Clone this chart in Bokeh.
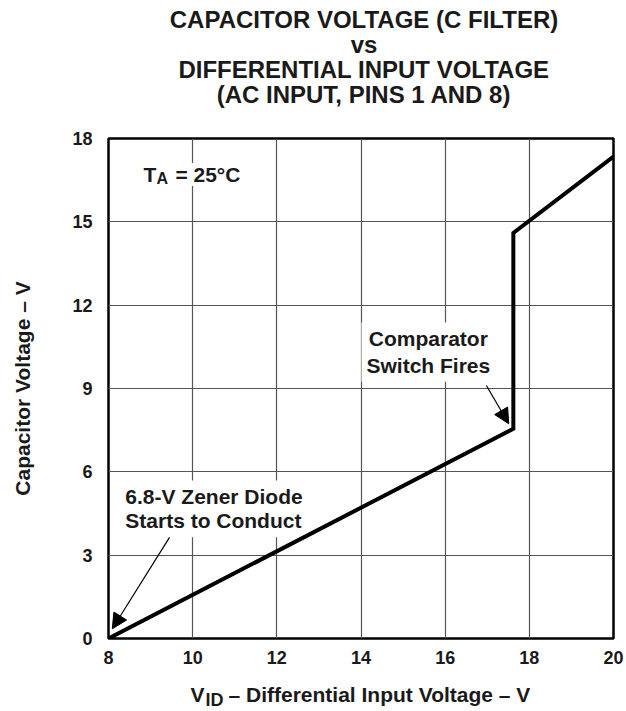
from bokeh.plotting import figure
from bokeh.layouts import column
from bokeh.models import Label, Arrow, NormalHead, FixedTicker, Range1d
from bokeh.embed import file_html
from bokeh.resources import INLINE

# ---- data ----
vid = [8.0, 17.62, 17.62, 20.0]          # differential input voltage (V)
vcap = [0.0, 7.55, 14.6, 17.35]          # capacitor voltage (V)
x_ticks = [8, 10, 12, 14, 16, 18, 20]
y_ticks = [0, 3, 6, 9, 12, 15, 18]
title_lines = ["CAPACITOR VOLTAGE (C FILTER)", "vs",
               "DIFFERENTIAL INPUT VOLTAGE", "(AC INPUT, PINS 1 AND 8)"]

FONT = "Liberation Sans"
INK = "#1a1a1a"
W = 626
LEFT, RIGHT = 108, 13      # frame borders shared by the stacked figures


def blank_fig(h):
    # frames are aligned with the main chart in the column, so map page pixels
    f = figure(width=W, height=h, x_range=Range1d(LEFT, W - RIGHT), y_range=Range1d(0, h),
               output_backend="svg", toolbar_location=None, title=None,
               min_border_left=LEFT, min_border_right=RIGHT,
               min_border_top=0, min_border_bottom=0,
               x_axis_location=None, y_axis_location=None)
    f.grid.visible = False
    f.outline_line_color = None
    f.background_fill_color = "white"
    f.border_fill_color = "white"
    return f


def lab(fig, text, x, y, size, align="left", baseline="alphabetic", bg=None, pad=0,
        lh=1.2, level="annotation"):
    l = Label(x=x, y=y, text=text, text_font=FONT, text_font_style="bold",
              text_font_size=size, text_color=INK, text_align=align,
              text_baseline=baseline, text_line_height=lh, level=level)
    if bg:
        l.background_fill_color = bg
        l.padding = pad
    fig.add_layout(l)
    return l


# ---- header with the title ----
HDR_H = 120
hdr = blank_fig(HDR_H)
for t, base in zip(title_lines, [19, 44, 69, 94]):
    lab(hdr, t, 363.5, HDR_H - base, "24px", align="center")

# ---- main chart ----
p = figure(width=W, height=560, x_range=Range1d(8, 20), y_range=Range1d(0, 18),
           output_backend="svg", toolbar_location=None, title=None,
           min_border_left=LEFT, min_border_right=RIGHT,
           min_border_top=18, min_border_bottom=42)
p.background_fill_color = "white"
p.border_fill_color = "white"
p.outline_line_color = "black"
p.outline_line_width = 2.5

p.xaxis.ticker = FixedTicker(ticks=x_ticks)
p.yaxis.ticker = FixedTicker(ticks=y_ticks)
p.xgrid.ticker = FixedTicker(ticks=x_ticks)
p.ygrid.ticker = FixedTicker(ticks=y_ticks)
for g in (p.xgrid, p.ygrid):
    g.grid_line_color = "#555555"
    g.grid_line_width = 1.2

for ax in (p.xaxis, p.yaxis):
    ax.axis_line_color = None
    ax.major_tick_line_color = None
    ax.minor_tick_line_color = None
    ax.major_label_text_font = FONT
    ax.major_label_text_font_style = "bold"
    ax.major_label_text_font_size = "18px"
    ax.major_label_text_color = INK
p.xaxis.major_label_standoff = 6
p.yaxis.major_label_standoff = 10

p.yaxis.axis_label = "Capacitor Voltage – V"
p.yaxis.axis_label_text_font = FONT
p.yaxis.axis_label_text_font_style = "bold"
p.yaxis.axis_label_text_font_size = "21px"
p.yaxis.axis_label_text_color = INK
p.yaxis.axis_label_standoff = 35

# text boxes that hide the grid sit below the curve
lab(p, "= 25°C", 9.59, 16.70, "21px", bg="white", pad=0, level="underlay")
lab(p, "Comparator\nSwitch Fires", 15.6, 11.38, "21px", align="center", baseline="top",
    bg="white", pad=5, lh=1.15, level="underlay")
lab(p, "6.8-V Zener Diode\nStarts to Conduct", 8.28, 5.69, "21px", align="left",
    baseline="top", bg="white", pad=5, lh=1.03, level="underlay")

p.line(vid, vcap, line_width=4, color="black", line_join="miter")

# T_A subscript
lab(p, "T", 8.83, 16.70, "21px")
lab(p, "A", 9.14, 16.55, "16px")

p.add_layout(Arrow(end=NormalHead(size=15, fill_color="black", line_color="black"),
                   x_start=16.98, y_start=9.11, x_end=17.51, y_end=7.73,
                   line_color="black", line_width=1.2))
p.add_layout(Arrow(end=NormalHead(size=15, fill_color="black", line_color="black"),
                   x_start=9.45, y_start=3.64, x_end=8.09, y_end=0.35,
                   line_color="black", line_width=1.2))

# ---- footer with the x axis title (V with subscript ID) ----
FTR_H = 31
FTR_TOP = 680
ftr = blank_fig(FTR_H)
lab(ftr, "V", 190, FTR_H - (694 - FTR_TOP), "21px")
lab(ftr, "ID", 205, FTR_H - (699 - FTR_TOP), "18px")
lab(ftr, "– Differential Input Voltage – V", 228, FTR_H - (694 - FTR_TOP), "21px")

layout = column(hdr, p, ftr, spacing=0)
open("out.html", "w").write(file_html(layout, INLINE))
